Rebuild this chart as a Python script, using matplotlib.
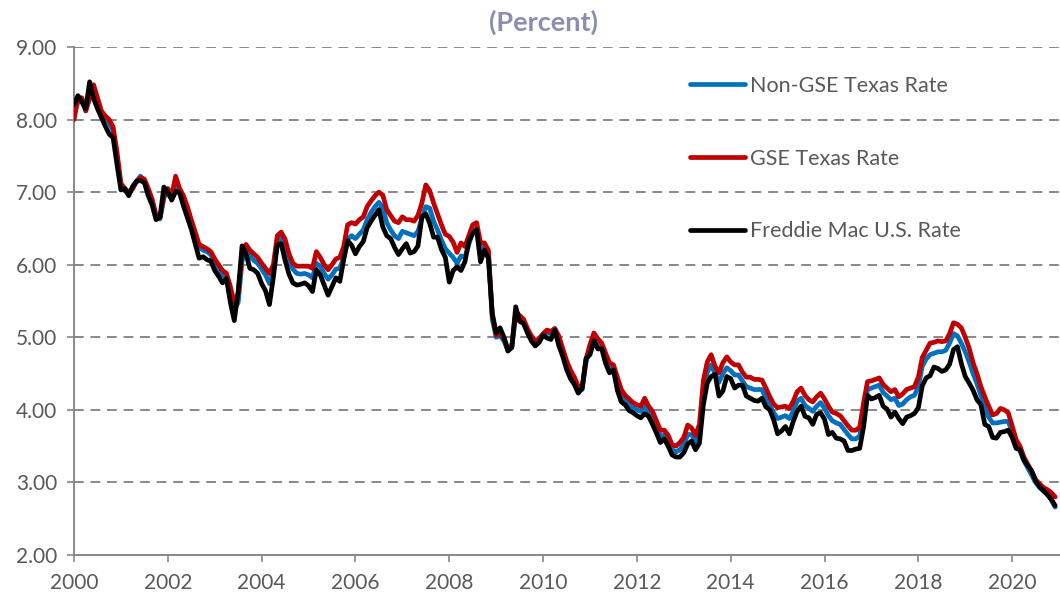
import matplotlib
matplotlib.use("Agg")
import matplotlib.pyplot as plt
import numpy as np

years = list(range(2000, 2021))

freddie_us = [
    8.21, 8.33, 8.24, 8.15, 8.52, 8.29, 8.15, 8.03, 7.91, 7.80, 7.75, 7.38,
    7.03, 7.05, 6.95, 7.08, 7.15, 7.16, 7.13, 6.95, 6.82, 6.62, 6.66, 7.07,
    7.00, 6.89, 7.01, 6.99, 6.81, 6.65, 6.49, 6.29, 6.09, 6.11, 6.07, 6.05,
    5.92, 5.84, 5.75, 5.81, 5.48, 5.23, 5.63, 6.26, 6.15, 5.95, 5.93, 5.88,
    5.74, 5.64, 5.45, 5.83, 6.27, 6.29, 6.06, 5.87, 5.75, 5.72, 5.73, 5.75,
    5.71, 5.63, 5.93, 5.86, 5.72, 5.58, 5.70, 5.82, 5.77, 6.07, 6.33, 6.27,
    6.15, 6.25, 6.32, 6.51, 6.60, 6.68, 6.76, 6.52, 6.40, 6.36, 6.24, 6.14,
    6.22, 6.29, 6.16, 6.18, 6.26, 6.66, 6.70, 6.57, 6.38, 6.38, 6.21, 6.10,
    5.76, 5.92, 5.97, 5.92, 6.04, 6.32, 6.43, 6.48, 6.04, 6.20, 6.09, 5.33,
    5.06, 5.13, 5.00, 4.81, 4.86, 5.42, 5.22, 5.19, 5.06, 4.95, 4.88, 4.93,
    5.03, 4.99, 4.97, 5.10, 4.89, 4.74, 4.56, 4.43, 4.35, 4.23, 4.30, 4.71,
    4.76, 4.95, 4.84, 4.84, 4.64, 4.51, 4.55, 4.27, 4.11, 4.07, 3.99, 3.96,
    3.92, 3.89, 3.95, 3.91, 3.80, 3.68, 3.55, 3.60, 3.50, 3.38, 3.35, 3.35,
    3.41, 3.53, 3.57, 3.45, 3.54, 4.07, 4.37, 4.46, 4.49, 4.19, 4.26, 4.46,
    4.43, 4.30, 4.34, 4.34, 4.19, 4.16, 4.13, 4.12, 4.16, 4.04, 4.00, 3.86,
    3.67, 3.71, 3.77, 3.67, 3.84, 3.98, 4.05, 3.91, 3.89, 3.80, 3.94, 3.96,
    3.87, 3.66, 3.69, 3.61, 3.60, 3.57, 3.44, 3.44, 3.46, 3.47, 3.77, 4.20,
    4.15, 4.17, 4.20, 4.05, 4.01, 3.90, 3.97, 3.88, 3.81, 3.90, 3.92, 3.95,
    4.03, 4.33, 4.44, 4.47, 4.59, 4.57, 4.53, 4.55, 4.63, 4.83, 4.87, 4.64,
    4.46, 4.37, 4.27, 4.14, 4.07, 3.80, 3.77, 3.62, 3.61, 3.69, 3.70, 3.72,
    3.62, 3.47, 3.45, 3.31, 3.23, 3.16, 3.02, 2.94, 2.89, 2.83, 2.77, 2.68,
]

gse_texas = [
    8.00, 8.30, 8.30, 8.12, 8.30, 8.48, 8.30, 8.12, 8.05, 8.00, 7.90, 7.55,
    7.12, 7.05, 7.00, 7.05, 7.15, 7.20, 7.18, 7.05, 6.90, 6.68, 6.65, 6.95,
    7.05, 6.95, 7.22, 7.05, 6.95, 6.80, 6.62, 6.45, 6.28, 6.25, 6.22, 6.18,
    6.08, 6.00, 5.92, 5.88, 5.70, 5.47, 5.60, 6.15, 6.28, 6.20, 6.15, 6.10,
    6.02, 5.95, 5.88, 6.00, 6.40, 6.45, 6.35, 6.15, 6.02, 5.98, 5.98, 5.98,
    5.98, 5.95, 6.18, 6.10, 6.00, 5.93, 6.00, 6.08, 6.10, 6.25, 6.55, 6.58,
    6.56, 6.62, 6.66, 6.80, 6.88, 6.95, 7.00, 6.96, 6.76, 6.68, 6.60, 6.58,
    6.66, 6.62, 6.62, 6.60, 6.68, 6.85, 7.10, 7.02, 6.85, 6.70, 6.55, 6.42,
    6.39, 6.31, 6.17, 6.30, 6.25, 6.40, 6.55, 6.58, 6.30, 6.30, 6.20, 5.30,
    5.03, 5.05, 4.98, 4.85, 4.88, 5.35, 5.30, 5.25, 5.12, 5.02, 4.95, 4.98,
    5.05, 5.10, 5.08, 5.12, 5.02, 4.85, 4.68, 4.55, 4.45, 4.32, 4.32, 4.70,
    4.90, 5.06, 4.98, 4.92, 4.78, 4.65, 4.62, 4.45, 4.28, 4.20, 4.15, 4.10,
    4.07, 4.05, 4.16, 4.05, 3.98, 3.85, 3.72, 3.72, 3.65, 3.52, 3.50, 3.55,
    3.62, 3.79, 3.75, 3.65, 3.80, 4.40, 4.66, 4.76, 4.60, 4.51, 4.65, 4.73,
    4.66, 4.62, 4.62, 4.52, 4.45, 4.45, 4.42, 4.42, 4.41, 4.30, 4.18, 4.08,
    4.03, 4.04, 4.05, 4.02, 4.12, 4.25, 4.30, 4.20, 4.14, 4.11, 4.18, 4.23,
    4.15, 4.05, 3.97, 3.95, 3.92, 3.85, 3.78, 3.72, 3.72, 3.76, 4.10, 4.39,
    4.40, 4.42, 4.44, 4.35, 4.30, 4.25, 4.28, 4.18, 4.22, 4.28, 4.30, 4.32,
    4.45, 4.72, 4.82, 4.92, 4.93, 4.95, 4.94, 4.95, 5.05, 5.20, 5.18, 5.13,
    5.00, 4.85, 4.65, 4.50, 4.32, 4.18, 4.05, 3.93, 3.95, 4.02, 4.00, 3.96,
    3.78, 3.59, 3.50, 3.35, 3.25, 3.15, 3.04, 2.98, 2.93, 2.90, 2.86, 2.80,
]

non_gse_texas = [
    8.05, 8.25, 8.28, 8.12, 8.30, 8.45, 8.28, 8.10, 8.02, 7.95, 7.85, 7.50,
    7.08, 7.02, 6.98, 7.05, 7.15, 7.22, 7.15, 7.02, 6.88, 6.66, 6.63, 6.92,
    7.02, 6.92, 7.15, 7.00, 6.92, 6.76, 6.58, 6.40, 6.24, 6.20, 6.18, 6.14,
    6.02, 5.95, 5.86, 5.82, 5.62, 5.38, 5.48, 6.05, 6.22, 6.12, 6.06, 6.02,
    5.94, 5.86, 5.74, 5.90, 6.30, 6.38, 6.26, 6.05, 5.94, 5.88, 5.87, 5.88,
    5.86, 5.82, 6.02, 5.98, 5.88, 5.80, 5.86, 5.94, 5.95, 6.10, 6.35, 6.40,
    6.36, 6.42, 6.48, 6.62, 6.72, 6.80, 6.86, 6.78, 6.58, 6.48, 6.40, 6.36,
    6.46, 6.44, 6.42, 6.40, 6.46, 6.64, 6.80, 6.78, 6.60, 6.48, 6.34, 6.22,
    6.16, 6.10, 6.02, 6.12, 6.10, 6.28, 6.45, 6.50, 6.22, 6.24, 6.18, 5.25,
    5.00, 5.02, 4.95, 4.82, 4.86, 5.30, 5.28, 5.22, 5.10, 5.00, 4.92, 4.96,
    5.04, 5.06, 5.05, 5.12, 5.00, 4.82, 4.64, 4.50, 4.40, 4.28, 4.28, 4.66,
    4.86, 5.00, 4.92, 4.88, 4.72, 4.58, 4.56, 4.38, 4.20, 4.12, 4.07, 4.03,
    4.00, 3.98, 4.06, 3.98, 3.90, 3.78, 3.64, 3.65, 3.58, 3.45, 3.42, 3.45,
    3.52, 3.66, 3.66, 3.56, 3.68, 4.25, 4.52, 4.62, 4.50, 4.38, 4.50, 4.58,
    4.54, 4.48, 4.48, 4.40, 4.32, 4.30, 4.28, 4.28, 4.28, 4.16, 4.06, 3.96,
    3.88, 3.90, 3.92, 3.88, 3.98, 4.12, 4.16, 4.06, 4.02, 3.98, 4.05, 4.10,
    4.02, 3.92, 3.85, 3.82, 3.80, 3.73, 3.66, 3.60, 3.60, 3.64, 3.98, 4.28,
    4.30, 4.32, 4.34, 4.24, 4.19, 4.14, 4.16, 4.06, 4.08, 4.14, 4.18, 4.20,
    4.32, 4.60, 4.70, 4.76, 4.78, 4.80, 4.80, 4.82, 4.92, 5.05, 5.02, 4.92,
    4.80, 4.66, 4.50, 4.36, 4.20, 4.02, 3.90, 3.82, 3.82, 3.83, 3.84, 3.84,
    3.70, 3.52, 3.44, 3.30, 3.20, 3.10, 3.00, 2.93, 2.88, 2.84, 2.76, 2.66,
]

series_labels = ["Non-GSE Texas Rate", "GSE Texas Rate", "Freddie Mac U.S. Rate"]
series_colors = ["#0070C0", "#C00000", "#000000"]
x_tick_years = list(range(2000, 2021, 2))
y_ticks = [2, 3, 4, 5, 6, 7, 8, 9]
title_text = "(Percent)"

# time axis: monthly points
t = np.array([y + m / 12.0 for y in years for m in range(12)])

plt.rcParams['font.family'] = ['Lato', 'DejaVu Sans']
fig = plt.figure(figsize=(10.6, 5.99), dpi=100)
ax = fig.add_axes([74 / 1060, 1 - 555 / 599, 1 - 74 / 1060, (555 - 47) / 599])

text_color = "#595959"
grid_color = "#888888"

for vals, lab, col, z in zip([non_gse_texas, gse_texas, freddie_us], series_labels, series_colors, [2, 3, 4]):
    ax.plot(t, vals, color=col, lw=3.4, label=lab, zorder=z, solid_joinstyle='round', solid_capstyle='round')

ax.set_xlim(2000, 2021.02)
ax.set_ylim(2, 9)
ax.set_yticks(y_ticks)
ax.set_yticklabels([f"{v:.2f}" for v in y_ticks])
ax.set_xticks(x_tick_years)
ax.set_xticklabels([str(v) for v in x_tick_years])

for yv in y_ticks[1:]:
    ax.axhline(yv, color=grid_color, lw=1.4, ls=(0, (5, 3.5)), zorder=1)

for s in ["top", "right"]:
    ax.spines[s].set_visible(False)
for s in ["left", "bottom"]:
    ax.spines[s].set_color(grid_color)
    ax.spines[s].set_linewidth(1.4)

ax.tick_params(axis='both', direction='out', length=5, width=1.2, color=grid_color,
               labelcolor=text_color, labelsize=15)
ax.tick_params(axis='x', pad=8)
ax.tick_params(axis='y', pad=7)

fig.text(543 / 1060, 1 - 22 / 599, title_text, ha='center', va='center',
         fontsize=19.5, fontweight='bold', color="#8A8FB0")

leg = ax.legend(loc='upper left', bbox_to_anchor=(690 / 1060, 1 - 76 / 599),
                bbox_transform=fig.transFigure, frameon=False, fontsize=15.5,
                labelspacing=2.45, handlelength=2.55, handletextpad=0.23,
                borderpad=0, borderaxespad=0)
for txt in leg.get_texts():
    txt.set_color(text_color)

fig.savefig("out.png", dpi=100)
